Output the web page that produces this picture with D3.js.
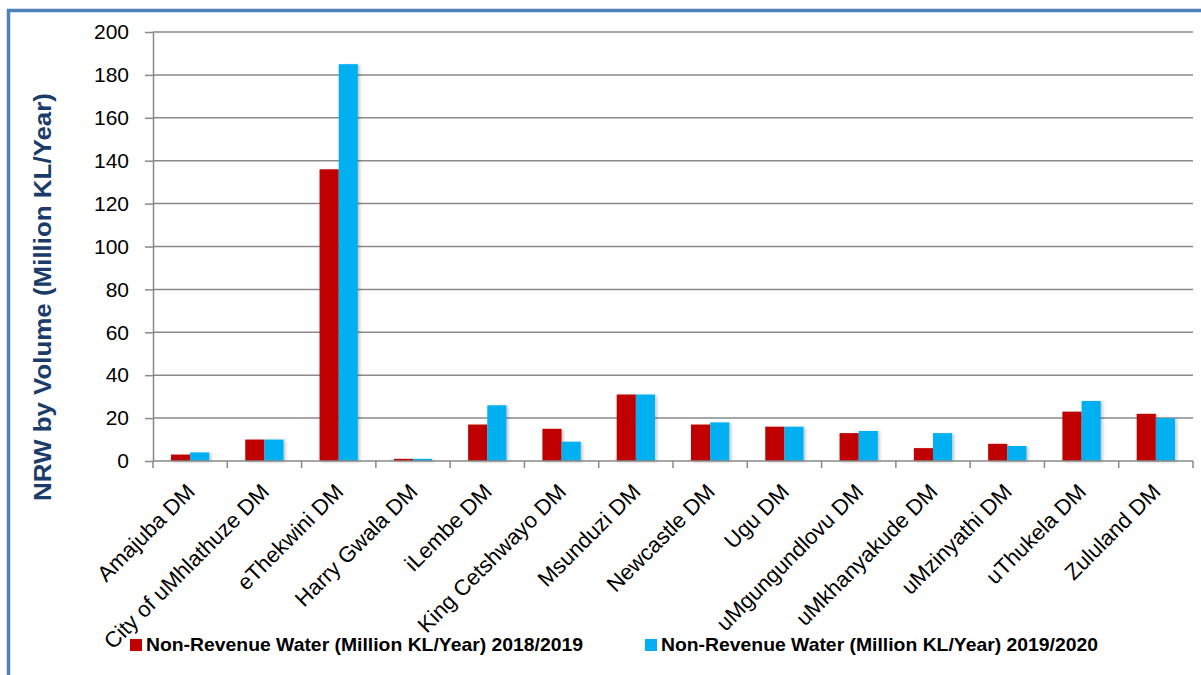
<!DOCTYPE html>
<html><head><meta charset="utf-8">
<script src="https://cdn.jsdelivr.net/npm/d3@7"></script>
<style>body{margin:0;background:#fff;}svg{display:block;}</style>
</head><body>
<svg id="c" width="1201" height="675"></svg>
<script>
const categories = ["Amajuba DM","City of uMhlathuze DM","eThekwini DM","Harry Gwala DM","iLembe DM","King Cetshwayo DM","Msunduzi DM","Newcastle DM","Ugu DM","uMgungundlovu DM","uMkhanyakude DM","uMzinyathi DM","uThukela DM","Zululand DM"];
const nrw2018 = [3,10,136,1,17,15,31,17,16,13,6,8,23,22];
const nrw2020 = [4,10,185,1,26,9,31,18,16,14,13,7,28,20];
const seriesNames = ["Non-Revenue Water (Million KL/Year) 2018/2019","Non-Revenue Water (Million KL/Year) 2019/2020"];
const seriesColors = ["#C00000","#00B0F0"];
const yTicks = [0,20,40,60,80,100,120,140,160,180,200];
const yTitle = "NRW by Volume (Million KL/Year)";

const svg = d3.select("#c");
const font = "'Liberation Sans', Arial, sans-serif";
const m = {left:153, right:1193, top:32, bottom:461};

// border
svg.append("rect").attr("x",8.5).attr("y",10.5).attr("width",1230).attr("height",700)
  .attr("fill","none").attr("stroke","#4F81BD").attr("stroke-width",3.5);

const defs = svg.append("defs");
const f = defs.append("filter").attr("id","sh").attr("x","-30%").attr("y","-10%").attr("width","160%").attr("height","130%");
f.append("feDropShadow").attr("dx",2).attr("dy",1).attr("stdDeviation",1.5).attr("flood-color","#000").attr("flood-opacity",0.22);

const y = d3.scaleLinear().domain([0,200]).range([m.bottom,m.top]);
const xOuter = d3.scaleBand().domain(categories).range([m.left,m.right]);
const x0 = d3.scaleBand().domain(categories).range([m.left,m.right]).paddingInner(0.484).paddingOuter(0.242);
const x1 = d3.scaleBand().domain([0,1]).range([0,x0.bandwidth()]);

// gridlines
svg.append("g").selectAll("line").data(yTicks.filter(d=>d>0)).join("line")
  .attr("x1",m.left).attr("x2",m.right).attr("y1",d=>y(d)).attr("y2",d=>y(d))
  .attr("stroke","#898989").attr("stroke-width",1.5);

// y axis
const ya = svg.append("g").attr("transform",`translate(${m.left},0)`)
  .call(d3.axisLeft(y).tickValues(yTicks).tickSize(8).tickPadding(16).tickSizeOuter(0));
ya.select(".domain").attr("stroke","#898989").attr("stroke-width",1.5);
ya.selectAll(".tick line").attr("stroke","#898989").attr("stroke-width",1.5);
ya.selectAll(".tick text").attr("font-family",font).attr("font-size",21).attr("fill","#000");

// bars
const series = [nrw2018, nrw2020];
series.forEach((vals,si)=>{
  svg.append("g").attr("filter","url(#sh)").selectAll("rect").data(categories).join("rect")
    .attr("x",(c)=>x0(c)+x1(si)).attr("width",x1.bandwidth())
    .attr("y",(c,i)=>y(vals[i])).attr("height",(c,i)=>y(0)-y(vals[i]))
    .attr("fill",seriesColors[si]);
});

// x axis
const boundaries = categories.map(c=>xOuter(c)).concat([m.right]);
const xa = svg.append("g");
xa.append("line").attr("x1",m.left).attr("x2",m.right).attr("y1",m.bottom).attr("y2",m.bottom)
  .attr("stroke","#898989").attr("stroke-width",1.5);
xa.selectAll("line.t").data(boundaries).join("line").attr("class","t")
  .attr("x1",d=>d).attr("x2",d=>d).attr("y1",m.bottom).attr("y2",m.bottom+7)
  .attr("stroke","#898989").attr("stroke-width",1.5);
xa.selectAll("text").data(categories).join("text")
  .attr("transform",c=>`translate(${xOuter(c)+xOuter.bandwidth()/2+6},${m.bottom+32}) rotate(-45)`)
  .attr("text-anchor","end").attr("font-family",font).attr("font-size",22).attr("fill","#000")
  .text(c=>c);

// y title
svg.append("text").attr("transform",`translate(51,297) rotate(-90)`)
  .attr("text-anchor","middle").attr("font-family",font).attr("font-weight","bold")
  .attr("font-size",24).attr("fill","#1B3C6B").attr("textLength",408).attr("lengthAdjust","spacingAndGlyphs")
  .text(yTitle);

// legend
const legX = [130, 645];
const leg = svg.append("g");
seriesNames.forEach((n,i)=>{
  leg.append("rect").attr("x",legX[i]).attr("y",639).attr("width",12).attr("height",12).attr("fill",seriesColors[i]);
  leg.append("text").attr("x",legX[i]+16).attr("y",651).attr("font-family",font).attr("font-weight","bold")
    .attr("font-size",18.5).attr("fill","#000").attr("textLength",437).attr("lengthAdjust","spacingAndGlyphs").text(n);
});
</script>
</body></html>
